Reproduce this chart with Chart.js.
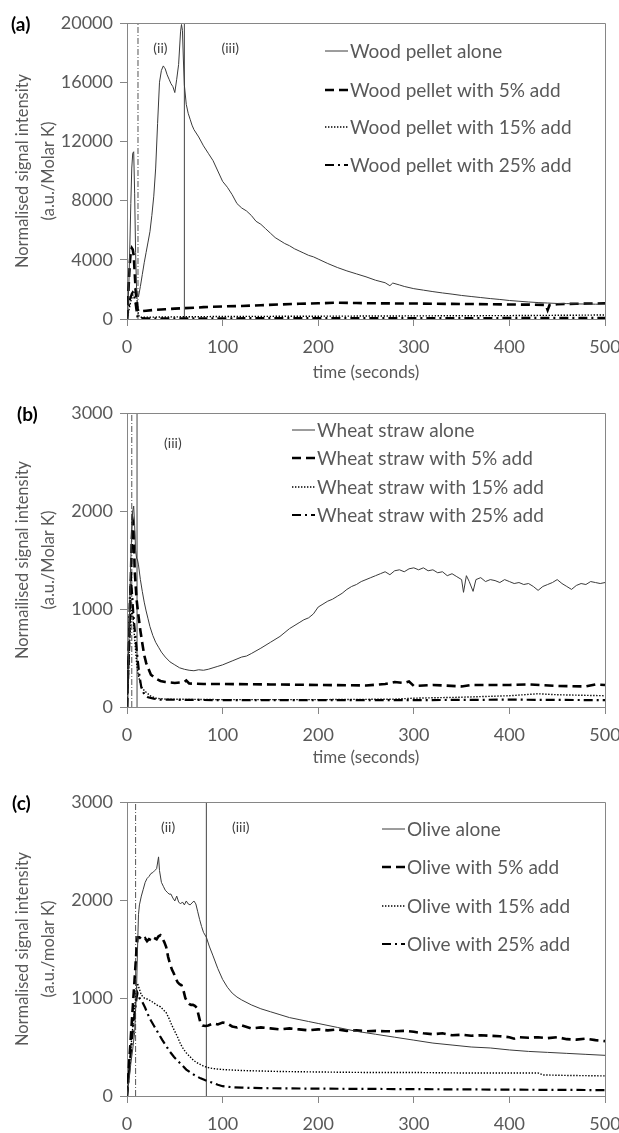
<!DOCTYPE html>
<html><head><meta charset="utf-8">
<script src="https://cdn.jsdelivr.net/npm/chart.js@4.4.0/dist/chart.umd.min.js"></script>
<style>
html,body{margin:0;padding:0;background:#fff;width:619px;height:1133px;overflow:hidden;position:relative;}
canvas{position:absolute;left:0;}
.pl{position:absolute;font-family:Lato,'Liberation Sans',sans-serif;font-weight:bold;font-size:19px;color:#000;line-height:20px;}
</style></head><body>
<canvas id="cA" width="619" height="385" style="top:0px"></canvas>
<canvas id="cB" width="619" height="385" style="top:385px"></canvas>
<canvas id="cC" width="619" height="363" style="top:770px"></canvas>
<div class="pl" style="left:11px;top:14px">(a)</div>
<div class="pl" style="left:17px;top:404px">(b)</div>
<div class="pl" style="left:12px;top:793px">(c)</div>
<script>
// ---------- shared axis ticks ----------
const xTicks = [0, 100, 200, 300, 400, 500];
const yTicksA = [0, 4000, 8000, 12000, 16000, 20000];
const yTicksB = [0, 1000, 2000, 3000];
const yTicksC = [0, 1000, 2000, 3000];

// ---------- panel (a) wood pellet: [time s, intensity] ----------
const woodLabels = ['Wood pellet alone','Wood pellet with 5% add','Wood pellet with 15% add','Wood pellet with 25% add'];
const woodAlone = [[0,0],[1,800],[2,2500],[3,5000],[4,7800],[5,10200],[6,11200],[7,11300],[8,8500],[9,4500],[10,2100],[11,1600],[12,1500],
[14,2200],[16,3000],[18,3800],[20,4500],[22,5200],[24,5900],[26,7000],[28,8300],[30,10200],[32,13200],[34,16000],[36,16800],[38,17100],[39,17000],[40,16900],[42,16500],[44,16200],[46,15900],[48,15700],[50,15300],[52,16200],[54,17200],[56,19400],
[57,19900],[58,19500],[59,17500],[60,15800],[62,14500],[64,13900],[66,13500],[68,13100],[70,12800],
[75,12300],[80,11700],[85,11200],[90,10700],[95,10000],[100,9300],[105,8900],[110,8400],[115,7800],[120,7500],[125,7300],[130,7000],[135,6600],[140,6400],[145,6100],[150,5800],[155,5500],[160,5300],[165,5100],[170,4950],[175,4750],[180,4600],[185,4450],[190,4300],[195,4200],[200,4050],
[210,3750],[220,3480],[230,3250],[240,3050],[250,2850],[260,2620],[270,2450],[275,2250],[278,2430],[285,2300],[290,2200],
[300,2050],[310,1950],[320,1850],[330,1760],[340,1680],[350,1590],[360,1520],[370,1450],[380,1380],[390,1320],[400,1250],[410,1200],[420,1150],[430,1110],[440,1080],[450,1050],[460,1040],[470,1020],[480,1010],[490,1000],[500,1000]];
const wood5 = [[0,0],[1,1200],[2,2600],[3,3800],[4,4600],[5,4800],[6,4700],[7,4300],[8,3200],[9,2000],[10,1200],[11,700],[12,520],[15,520],[20,560],[30,620],[40,660],[50,700],[60,730],[70,760],[80,800],[90,830],[100,850],[120,880],[140,930],[160,980],[180,1030],[200,1060],[220,1100],[240,1080],[260,1060],[280,1050],[300,1050],[320,1030],[340,1020],[360,1010],[380,1000],[400,980],[420,970],[438,950],[440,600],[442,950],[450,1000],[470,1030],[490,1050],[500,1060]];
const wood15 = [[0,0],[2,600],[4,1200],[6,1600],[8,1900],[9,2000],[10,1700],[11,900],[12,300],[13,150],[15,120],[30,130],[60,150],[100,170],[150,180],[200,190],[250,200],[300,210],[350,220],[400,230],[450,250],[500,270]];
const wood25 = [[0,0],[1,500],[2,900],[3,1300],[4,1500],[5,1700],[6,1800],[7,1700],[8,1400],[9,1000],[10,500],[11,150],[12,60],[20,50],[100,50],[200,60],[300,60],[400,70],[500,80]];
const phaseA = [11.5, 60];
const regionTextA = ['(ii)', '(iii)'];

// ---------- panel (b) wheat straw ----------
const wheatLabels = ['Wheat straw alone','Wheat straw with 5% add','Wheat straw with 15% add','Wheat straw with 25% add'];
const wheatAlone = [[0,0],[1,300],[2,700],[3,1100],[4,1500],[5,1800],[6,2000],[7,2050],[8,1850],[9,1600],[10,1520],[11,1500],[12,1450],[14,1300],[16,1180],[18,1070],[20,980],[22,900],[24,820],[27,730],[30,660],[33,610],[36,560],[40,510],[45,460],[50,430],[55,400],[60,385],[65,375],[70,370],[75,380],[80,375],[85,385],[90,400],[95,415],[100,430],[110,470],[120,510],[125,520],[130,545],[140,600],[150,660],[160,720],[170,800],[180,860],[185,890],[190,910],[195,950],[200,1020],[205,1050],[210,1080],[215,1100],[220,1130],[225,1160],[230,1200],[235,1230],[240,1250],[245,1280],[250,1300],[255,1320],[260,1340],[265,1360],[270,1380],[275,1350],[280,1390],[285,1400],[290,1380],[295,1410],[300,1420],[305,1400],[310,1420],[315,1390],[320,1400],[325,1370],[330,1380],[335,1340],[340,1360],[345,1330],[350,1300],[352,1170],[355,1340],[358,1280],[362,1180],[365,1300],[370,1320],[375,1280],[380,1300],[385,1290],[390,1270],[395,1300],[400,1280],[405,1260],[410,1270],[415,1250],[420,1260],[425,1230],[430,1190],[435,1230],[440,1250],[445,1270],[450,1300],[455,1260],[460,1230],[465,1200],[470,1240],[475,1260],[480,1250],[485,1280],[490,1270],[495,1260],[500,1270]];
const wheat5 = [[0,0],[2,600],[4,1300],[5,1700],[6,1900],[7,1850],[8,1400],[10,1100],[12,930],[14,780],[16,650],[18,530],[20,450],[22,400],[25,330],[30,290],[35,265],[40,255],[50,245],[60,255],[62,270],[65,240],[80,235],[100,235],[150,230],[200,225],[250,220],[270,235],[280,255],[290,245],[295,260],[300,215],[320,225],[350,210],[360,225],[400,225],[420,230],[450,215],[480,210],[490,230],[500,225]];
const wheat15 = [[0,0],[2,500],[4,900],[5,1000],[6,950],[8,700],[10,450],[12,320],[14,240],[16,190],[20,150],[25,110],[30,90],[40,80],[100,75],[200,75],[280,80],[300,90],[350,100],[400,115],[430,135],[450,125],[500,115]];
const wheat25 = [[0,0],[2,600],[3,1100],[4,1300],[5,1200],[7,900],[9,700],[11,500],[13,320],[15,200],[18,130],[22,100],[28,85],[35,75],[100,70],[200,70],[300,70],[400,75],[500,70]];
const phaseB = [5, 10.5];
const regionTextB = ['(iii)'];

// ---------- panel (c) olive ----------
const oliveLabels = ['Olive alone','Olive with 5% add','Olive with 15% add','Olive with 25% add'];
const oliveAlone = [[0,0],[2,150],[4,330],[6,480],[8,650],[10,1100],[11,1500],[12,1850],[13,1950],[15,2040],[17,2110],[19,2180],[21,2220],[23,2240],[25,2270],[27,2280],[29,2300],[31,2320],[33,2440],[34,2300],[36,2180],[38,2140],[40,2100],[42,2080],[44,2060],[46,2060],[48,2020],[50,1990],[52,2040],[54,1980],[56,1960],[58,1980],[60,1950],[62,1990],[64,1960],[66,1950],[68,1970],[70,1990],[72,1960],[74,1880],[76,1800],[78,1730],[80,1670],[83,1620],[86,1530],[90,1430],[95,1300],[100,1190],[105,1110],[110,1050],[115,1010],[120,980],[130,930],[140,890],[150,860],[160,830],[170,800],[180,780],[190,760],[200,740],[220,700],[240,660],[260,630],[280,600],[300,570],[320,540],[340,520],[360,500],[380,490],[400,470],[420,455],[440,445],[460,435],[480,425],[500,415]];
const olive5 = [[0,0],[2,300],[4,600],[6,900],[8,1200],[10,1500],[11,1620],[13,1620],[15,1600],[17,1590],[19,1610],[21,1580],[23,1600],[25,1590],[27,1620],[29,1610],[31,1600],[33,1630],[35,1640],[37,1610],[39,1570],[41,1520],[43,1420],[45,1350],[47,1290],[49,1250],[51,1200],[53,1160],[55,1140],[57,1130],[59,1080],[61,1000],[63,960],[65,940],[67,930],[69,930],[71,920],[73,900],[75,820],[77,740],[79,720],[82,715],[85,720],[90,740],[95,730],[100,750],[105,740],[110,710],[115,700],[120,720],[130,690],[140,700],[150,690],[160,680],[170,690],[180,680],[190,670],[200,680],[210,670],[220,680],[230,665],[240,670],[250,660],[260,665],[270,660],[280,660],[290,665],[300,655],[310,640],[320,630],[330,640],[340,620],[350,625],[360,615],[370,620],[380,615],[390,610],[400,600],[405,585],[410,600],[420,595],[430,600],[440,590],[450,600],[460,580],[470,575],[480,585],[490,570],[500,560]];
const olive15 = [[0,0],[2,250],[4,480],[6,700],[8,900],[10,1100],[11,1150],[13,1090],[15,1030],[18,1000],[21,990],[25,970],[28,950],[31,930],[35,910],[38,880],[41,850],[44,790],[47,720],[50,660],[53,600],[56,530],[59,480],[62,440],[66,400],[70,360],[75,330],[80,305],[85,290],[90,280],[100,270],[110,265],[120,260],[140,255],[160,250],[200,245],[250,240],[300,240],[350,235],[400,235],[430,235],[435,215],[460,210],[500,205]];
const olive25 = [[0,0],[2,220],[4,450],[6,650],[8,850],[10,1000],[11,1050],[13,1000],[16,960],[19,900],[22,830],[25,770],[28,720],[31,670],[34,620],[37,570],[41,510],[45,450],[49,400],[53,360],[57,320],[62,270],[67,235],[72,205],[77,180],[82,160],[88,140],[95,115],[100,100],[110,90],[120,85],[140,80],[200,75],[300,70],[400,65],[500,60]];
const phaseC = [9, 83];
const regionTextC = ['(ii)', '(iii)'];

// ---------- styles ----------
const FONT = 'Lato';
const GRAY_TXT = '#595959';
const AXIS = '#868686';
const STY = [
  {borderColor:'#3a3a3a', borderWidth:1, borderDash:[]},
  {borderColor:'#000', borderWidth:2.6, borderDash:[9,5]},
  {borderColor:'#000', borderWidth:1.4, borderDash:[1.4,1.6]},
  {borderColor:'#000', borderWidth:2.2, borderDash:[9,4,2,4]}
];
const VSTY = [
  {borderColor:'#555', borderWidth:1, borderDash:[6,2,1,2]},
  {borderColor:'#444', borderWidth:1, borderDash:[]}
];

const decor = {
  id: 'decor',
  afterDatasetsDraw(chart, args, o) {
    const ctx = chart.ctx, a = chart.chartArea;
    const xs = chart.scales.x, ys = chart.scales.y;
    ctx.save();
    ctx.strokeStyle = AXIS; ctx.lineWidth = 1; ctx.setLineDash([]);
    ctx.beginPath();
    ctx.moveTo(a.left, Math.round(a.top) + 0.5);
    ctx.lineTo(Math.round(a.right) + 0.5, Math.round(a.top) + 0.5);
    ctx.lineTo(Math.round(a.right) + 0.5, a.bottom);
    ctx.stroke();
    ctx.font = '14px ' + FONT; ctx.fillStyle = '#404040';
    ctx.textAlign = 'center'; ctx.textBaseline = 'middle';
    o.regions.forEach((txt, i) => ctx.fillText(txt, xs.getPixelForValue(o.regionX[i]), ys.getPixelForValue(o.regionY)));
    ctx.font = '19px ' + FONT; ctx.textAlign = 'left';
    for (let i = 0; i < 4; i++) {
      const ds = chart.data.datasets[i];
      const y = o.ly[i];
      ctx.strokeStyle = ds.borderColor; ctx.lineWidth = ds.borderWidth;
      ctx.setLineDash(ds.borderDash);
      ctx.beginPath(); ctx.moveTo(o.lx, y); ctx.lineTo(o.lx + o.sw, y); ctx.stroke();
      ctx.fillStyle = GRAY_TXT;
      ctx.fillText(ds.label, o.lx + o.sw + 2, y + 1);
    }
    ctx.restore();
  }
};

function pts(arr) { return arr.map(p => ({x: p[0], y: p[1]})); }

function build(id, P) {
  const datasets = P.series.map((s, i) => Object.assign({label: P.labels[i], data: pts(s), pointRadius: 0, fill: false, tension: 0}, STY[i]));
  P.phases.forEach((x, i) => datasets.push(Object.assign({label: '', data: [{x: x, y: 0}, {x: x, y: P.yTicks[P.yTicks.length - 1]}], pointRadius: 0}, VSTY[i])));
  new Chart(document.getElementById(id), {
    type: 'line',
    data: {datasets},
    options: {
      responsive: false, animation: false, devicePixelRatio: 1,
      layout: {padding: {top: P.top, right: 14, left: 0, bottom: 0}},
      plugins: {legend: {display: false}, tooltip: {enabled: false},
        decor: {regions: P.regions, regionX: P.regionX, regionY: P.regionY, lx: P.lx, ly: P.ly, sw: 23}},
      scales: {
        x: {
          type: 'linear', min: 0, max: 500,
          afterBuildTicks: s => { s.ticks = xTicks.map(v => ({value: v})); },
          afterFit: s => { s.height = P.h - P.bottom; s.paddingLeft = 0; s.paddingRight = 0; },
          border: {color: AXIS, width: 1},
          grid: {drawOnChartArea: false, drawTicks: true, tickLength: 7, color: AXIS},
          ticks: {color: GRAY_TXT, font: {family: FONT, size: 18}, padding: 10, maxRotation: 0, autoSkip: false, callback: v => String(v)},
          title: {display: !!P.xTitle, text: P.xTitle || '', color: GRAY_TXT, font: {family: FONT, size: 17, lineHeight: 1.2}, padding: {top: 0, bottom: 2}}
        },
        y: {
          type: 'linear', min: 0, max: P.yTicks[P.yTicks.length - 1],
          afterBuildTicks: s => { s.ticks = P.yTicks.map(v => ({value: v})); },
          afterFit: s => { s.width = 127; s.paddingTop = 0; s.paddingBottom = 0; },
          border: {color: AXIS, width: 1},
          grid: {drawOnChartArea: false, drawTicks: true, tickLength: 7, color: AXIS},
          ticks: {color: GRAY_TXT, font: {family: FONT, size: 18}, padding: 7, autoSkip: false, callback: v => String(v)},
          title: {display: true, text: P.yTitle, color: GRAY_TXT, font: {family: FONT, size: 16.5, lineHeight: 1.55}, padding: {top: 10, bottom: 0}}
        }
      }
    },
    plugins: [decor]
  });
}

build('cA', {series: [woodAlone, wood5, wood15, wood25], labels: woodLabels, yTicks: yTicksA, phases: phaseA,
  top: 23, bottom: 319, h: 385, xTitle: 'time (seconds)', yTitle: ['Normalised signal intensity', '(a.u./Molar K)'],
  regions: regionTextA, regionX: [35, 108], regionY: 18300, lx: 325, ly: [51, 90, 127, 165]});
build('cB', {series: [wheatAlone, wheat5, wheat15, wheat25], labels: wheatLabels, yTicks: yTicksB, phases: phaseB,
  top: 28, bottom: 322, h: 385, xTitle: 'time (seconds)', yTitle: ['Normailised signal intensity', '(a.u./Molar K)'],
  regions: regionTextB, regionX: [48], regionY: 2690, lx: 292, ly: [45, 73, 102, 130]});
build('cC', {series: [oliveAlone, olive5, olive15, olive25], labels: oliveLabels, yTicks: yTicksC, phases: phaseC,
  top: 32, bottom: 326, h: 363, xTitle: '', yTitle: ['Normalised signal intensity', '(a.u./molar K)'],
  regions: regionTextC, regionX: [43, 119], regionY: 2735, lx: 382, ly: [59, 97, 136, 174]});
</script>
</body></html>
